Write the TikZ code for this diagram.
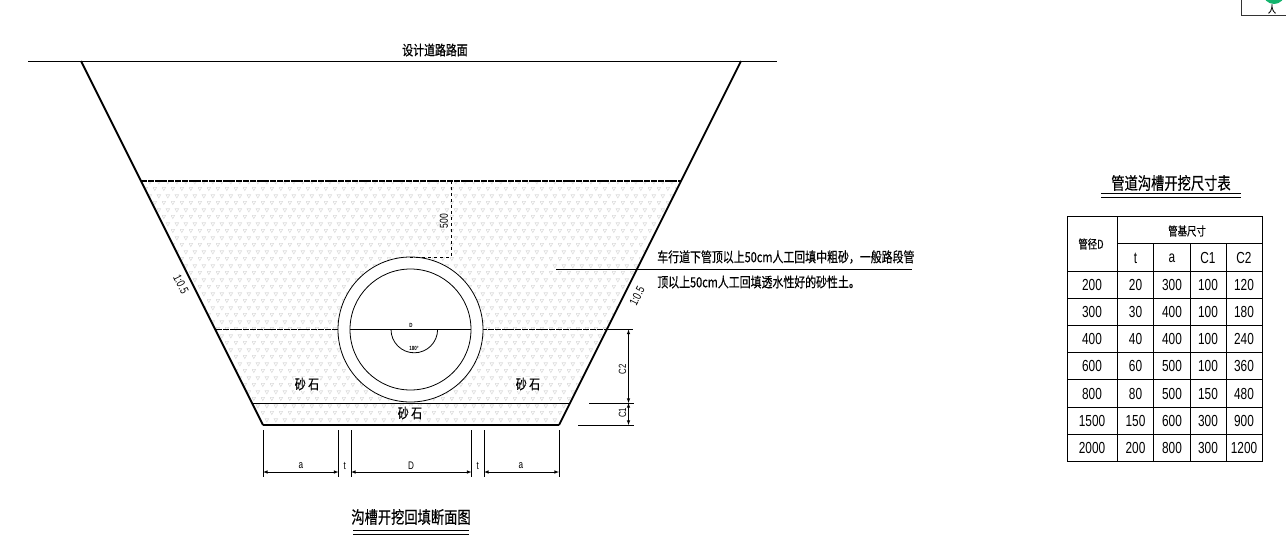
\documentclass[tikz,border=0pt]{standalone}
\usepackage{fontspec}
\setmainfont{Liberation Sans}
\newfontfamily\cjkfont[FakeBold=0.5]{Noto Sans CJK SC}
\usetikzlibrary{patterns}

\definecolor{markgreen}{RGB}{20,180,110}

\pgfdeclarepatternformonly{sandfill}{\pgfqpoint{0pt}{0pt}}{\pgfqpoint{9pt}{14pt}}{\pgfqpoint{9pt}{14pt}}{
\pgfsetlinewidth{.6pt}
\pgfpathmoveto{\pgfqpoint{0pt}{5pt}}\pgfpathlineto{\pgfqpoint{4pt}{5pt}}\pgfpathlineto{\pgfqpoint{2pt}{1.5pt}}\pgfpathclose
\pgfpathmoveto{\pgfqpoint{4.5pt}{12pt}}\pgfpathlineto{\pgfqpoint{8.5pt}{12pt}}\pgfpathlineto{\pgfqpoint{6.5pt}{8.5pt}}\pgfpathclose
\pgfusepath{stroke}
}

\tikzset{
  zhlabel/.style={font=\cjkfont\fontsize{#1}{#1}\selectfont,inner sep=0pt,xscale=.78},
  numlabel/.style={font=\fontsize{#1}{#1}\selectfont,inner sep=0pt,xscale=.74},
  dimline/.style={line width=.6pt,<->},
  extline/.style={line width=.7pt},
  slopeline/.style={line width=1.8pt},
  levelline/.style={line width=1.3pt,dash pattern=on 6pt off .8pt},
}

\begin{document}
\begin{tikzpicture}[x=1pt,y=-1pt,>=latex,line width=.8pt]
\useasboundingbox (0,0) rectangle (1286,555);

% backfill
\fill[pattern=sandfill,pattern color=black!14] (141,181) -- (681,181) -- (559,425) -- (263,425) -- cycle;

% road and trench
\draw[line width=.9pt] (28,61) -- (777,61);
\node[zhlabel=14] (roadtext) at (435,50) {设计道路路面};
\draw[slopeline] (81,61) -- (263,425);
\draw[slopeline] (741,61) -- (559,425);
\draw[line width=2.4pt] (263,425) -- (559,425);
\draw[levelline] (141,181) -- (681,181);
\draw[levelline] (216,329.5) -- (606,329.5);
\draw (253,403) -- (570,403);

% pipe
\draw[fill=white] (410.5,329.5) circle (72.5);
\draw (410.5,329.5) circle (60.5);
\draw[line width=1pt] (350,329.5) -- (471,329.5);
\draw (391,329.5) arc (180:0:23.3);
\node[numlabel=6] (pipeD) at (411,325) {\textbf{D}};
\node[numlabel=6] (pipeangle) at (414,348) {\textbf{180°}};

% 500 mark
\draw[dashed,line width=.7pt] (451,181) -- (451,257) -- (410,257);
\node[rotate=90,numlabel=11.5] (cover) at (444,221) {500};

% sand labels
\node[zhlabel=14,fill=white,inner sep=1pt] (sandl) at (307,384) {砂 石};
\node[zhlabel=14,fill=white,inner sep=1pt] (sandr) at (528,384) {砂 石};
\node[zhlabel=14,fill=white,inner sep=1pt] (sandb) at (410,413) {砂 石};

% note
\draw[line width=.9pt] (556,269) -- (912,269);
\node[zhlabel=14,anchor=west] (notea) at (657,257) {车行道下管顶以上50cm人工回填中粗砂，一般路段管};
\node[zhlabel=14,anchor=west] (noteb) at (657,282) {顶以上50cm人工回填透水性好的砂性土。};

% slopes
\node[rotate=-63.4,numlabel=12] (slopel) at (181,284) {1:0.5};
\node[rotate=63.4,numlabel=12] (sloper) at (637,296) {1:0.5};

% bottom dimensions
\foreach \xa in {263,338.5,351,471.5,484,559}
  \draw[extline] (\xa,430) -- (\xa,477);
\draw[dimline] (263,472) -- (338.5,472);
\draw[dimline] (351,472) -- (471.5,472);
\draw[dimline] (484,472) -- (559,472);
\node[numlabel=11] (dima) at (301,466) {a};
\node[numlabel=11] (dimt) at (344.7,466) {t};
\node[numlabel=11] (dimd) at (411,466) {D};
\node[numlabel=11] (dimu) at (477.7,466) {t};
\node[numlabel=11] (dimb) at (521,466) {a};

% right dimensions
\draw[extline] (606,329.5) -- (633,329.5);
\draw[extline] (589,403) -- (634,403);
\draw[extline] (578,425) -- (634,425);
\draw[dimline] (628.5,329.5) -- (628.5,403);
\draw[dimline] (628.5,403) -- (628.5,425);
\node[rotate=90,numlabel=10.5] (dimc2) at (622.5,369.5) {C2};
\node[rotate=90,numlabel=10.5] (dimc1) at (622.5,413) {C1};

% section title
\node[zhlabel=17] (secttitle) at (411,517) {沟槽开挖回填断面图};
\draw[line width=1pt] (353,530) -- (469,530);
\draw[line width=1pt] (353,534) -- (469,534);

% table title
\node[zhlabel=17] (tabtitle) at (1171,183) {管道沟槽开挖尺寸表};
\draw[line width=1pt] (1101,193.3) -- (1240.7,193.3);
\draw[line width=1pt] (1101,197.3) -- (1240.7,197.3);

% table
\draw[line width=1.2pt] (1067.3,216.7) rectangle (1262.3,461.7);
\draw (1117.3,216.7) -- (1117.3,461.7);
\draw (1117.3,243.5) -- (1262.3,243.5);
\foreach \xa in {1153.7,1190,1226.3}
  \draw (\xa,243.5) -- (\xa,461.7);
\foreach \ya in {271,298.2,325.4,352.6,379.8,407,434.2}
  \draw (1067.3,\ya) -- (1262.3,\ya);

\node[zhlabel=12] (headd) at (1091,244) {管径D};
\node[zhlabel=12] (headbase) at (1187,231) {管基尺寸};
\node[numlabel=16] (headt) at (1135.5,258) {t};
\node[numlabel=16] (heada) at (1172,258) {a};
\node[numlabel=16] (headc1) at (1208,258) {C1};
\node[numlabel=16] (headc2) at (1244,258) {C2};

\foreach \pd/\pt/\pa/\pb/\pc [count=\n] in {200/20/300/100/120,300/30/400/100/180,400/40/400/100/240,600/60/500/100/360,800/80/500/150/480,1500/150/600/300/900,2000/200/800/300/1200}{
  \pgfmathsetmacro{\ya}{257.6+27.2*\n}
  \node[numlabel=16] (rowd\n) at (1092,\ya) {\pd};
  \node[numlabel=16] (rowt\n) at (1135.5,\ya) {\pt};
  \node[numlabel=16] (rowa\n) at (1172,\ya) {\pa};
  \node[numlabel=16] (rowb\n) at (1208,\ya) {\pb};
  \node[numlabel=16] (rowc\n) at (1244,\ya) {\pc};
}

% corner mark
\begin{scope}
\clip (0,0) rectangle (1286,555);
\fill[markgreen] (1274,-7) circle (11);
\draw[line width=1pt,black!80] (1241,0) -- (1241,15) -- (1286,15);
\end{scope}
\node[zhlabel=10] (cornertext) at (1272,9) {人};

\end{tikzpicture}
\end{document}
